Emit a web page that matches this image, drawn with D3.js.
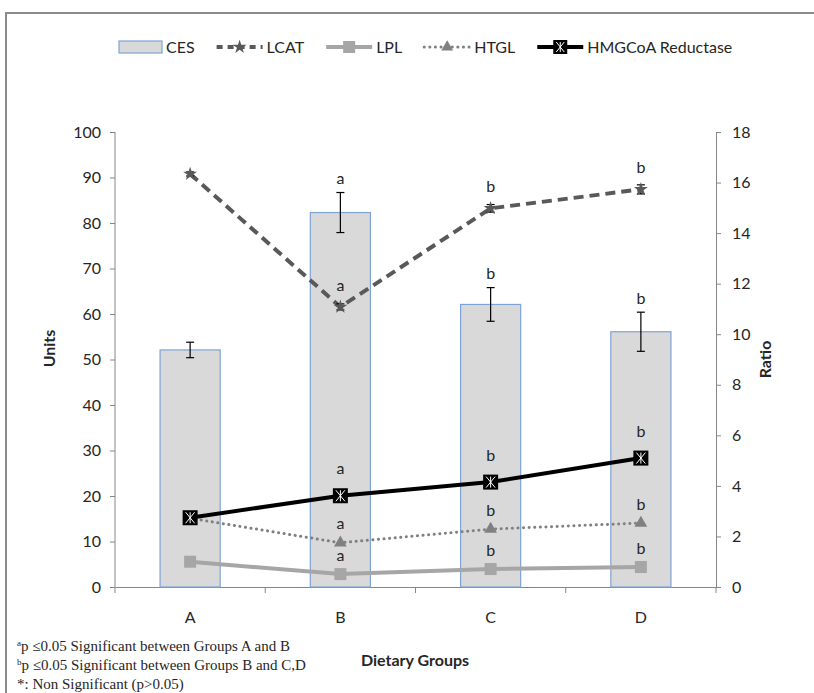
<!DOCTYPE html>
<html>
<head>
<meta charset="utf-8">
<script src="https://cdn.jsdelivr.net/npm/d3@7"></script>
<style>
  body { margin: 0; background: #fff; }
  svg { display: block; }
  text { font-family: Lato, "Open Sans", sans-serif; fill: #262626; }
  .note { font-family: "Liberation Serif", "Times New Roman", serif; }
</style>
</head>
<body>
<div id="viz"></div>
<script>
const width = 814;
const height = 693;
const marginLeft = 115;
const marginRight = 98;
const marginTop = 132;
const marginBottom = 106;

// data
const groups = ['A', 'B', 'C', 'D'];
const cesValues = [52.1, 82.3, 62.1, 56.1];
const cesErrors = [1.7, 4.4, 3.7, 4.3];
const cesLabels = ['', 'a', 'b', 'b'];
const lcatValues = [16.34, 11.08, 14.98, 15.73];
const lcatErrors = [0.08, 0.12, 0.15, 0.18];
const lcatLabels = ['', 'a', 'b', 'b'];
const lplValues = [1.0, 0.51, 0.71, 0.79];
const lplLabels = ['', 'a', 'b', 'b'];
const htglValues = [2.72, 1.75, 2.29, 2.53];
const htglLabels = ['', 'a', 'b', 'b'];
const hmgValues = [2.74, 3.61, 4.15, 5.1];
const hmgLabels = ['', 'a', 'b', 'b'];
const unitTicks = [0, 10, 20, 30, 40, 50, 60, 70, 80, 90, 100];
const ratioTicks = [0, 2, 4, 6, 8, 10, 12, 14, 16, 18];
const legendNames = ['CES', 'LCAT', 'LPL', 'HTGL', 'HMGCoA Reductase'];

const svg = d3
  .select('#viz')
  .append('svg')
  .attr('width', width)
  .attr('height', height);

// outer chart frame
svg
  .append('rect')
  .attr('x', 6)
  .attr('y', 13)
  .attr('width', 900)
  .attr('height', 800)
  .attr('fill', 'none')
  .attr('stroke', '#8c8c8c')
  .attr('stroke-width', 2);

const xScale = d3
  .scaleBand()
  .domain(groups)
  .range([marginLeft, width - marginRight]);

const yUnits = d3
  .scaleLinear()
  .domain([0, 100])
  .range([height - marginBottom, marginTop]);

const yRatio = d3
  .scaleLinear()
  .domain([0, 18])
  .range([height - marginBottom, marginTop]);

const axisColor = '#868686';
const cx = (i) => xScale(groups[i]) + xScale.bandwidth() / 2;

// axes
const leftAxis = svg
  .append('g')
  .attr('transform', `translate(${marginLeft},0)`)
  .call(d3.axisLeft(yUnits).tickValues(unitTicks).tickSize(5).tickPadding(9));
const rightAxis = svg
  .append('g')
  .attr('transform', `translate(${width - marginRight},0)`)
  .call(d3.axisRight(yRatio).tickValues(ratioTicks).tickSize(5).tickPadding(11));
const bottomAxis = svg
  .append('g')
  .attr('transform', `translate(0,${height - marginBottom})`)
  .call(d3.axisBottom(xScale).tickSize(0).tickPadding(25));

[leftAxis, rightAxis, bottomAxis].forEach((g) => {
  g.selectAll('path, line').attr('stroke', axisColor);
  g.selectAll('text')
    .attr('font-size', 16)
    .attr('fill', '#404040')
    .style('font-family', 'Lato, sans-serif');
});
leftAxis.select('.domain').attr('d', `M0,${height - marginBottom + 6}V${marginTop}`);

// category boundary ticks below the x axis
svg
  .append('g')
  .selectAll('line')
  .data(groups)
  .join('line')
  .attr('x1', (d) => xScale(d) + xScale.bandwidth())
  .attr('x2', (d) => xScale(d) + xScale.bandwidth())
  .attr('y1', height - marginBottom)
  .attr('y2', height - marginBottom + 6)
  .attr('stroke', axisColor);

// axis titles
svg
  .append('text')
  .attr('transform', `translate(49,${(yUnits(0) + yUnits(100)) / 2 - 11}) rotate(-90)`)
  .attr('text-anchor', 'middle')
  .attr('dy', '0.35em')
  .attr('font-size', 16)
  .attr('font-weight', 'bold')
  .attr('fill', '#000')
  .text('Units');
svg
  .append('text')
  .attr('transform', `translate(765,${(yRatio(0) + yRatio(18)) / 2}) rotate(-90)`)
  .attr('text-anchor', 'middle')
  .attr('dy', '0.35em')
  .attr('font-size', 16)
  .attr('font-weight', 'bold')
  .attr('fill', '#000')
  .text('Ratio');
svg
  .append('text')
  .attr('x', 415)
  .attr('y', 666)
  .attr('text-anchor', 'middle')
  .attr('font-size', 16)
  .attr('font-weight', 'bold')
  .attr('fill', '#000')
  .text('Dietary Groups');

// CES bars
const barWidth = xScale.bandwidth() * 0.4;
svg
  .append('g')
  .selectAll('rect')
  .data(cesValues)
  .join('rect')
  .attr('x', (d, i) => cx(i) - barWidth / 2)
  .attr('y', (d) => yUnits(d))
  .attr('width', barWidth)
  .attr('height', (d) => yUnits(0) - yUnits(d))
  .attr('fill', '#d9d9d9')
  .attr('stroke', '#7ea3d6')
  .attr('stroke-width', 1.2);

function errorBars(values, errors, scale, color) {
  const g = svg.append('g').attr('stroke', color).attr('stroke-width', 1.2);
  values.forEach((v, i) => {
    const x = cx(i);
    const y0 = scale(v - errors[i]);
    const y1 = scale(v + errors[i]);
    g.append('line').attr('x1', x).attr('x2', x).attr('y1', y0).attr('y2', y1);
    g.append('line').attr('x1', x - 4).attr('x2', x + 4).attr('y1', y0).attr('y2', y0);
    g.append('line').attr('x1', x - 4).attr('x2', x + 4).attr('y1', y1).attr('y2', y1);
  });
}
errorBars(cesValues, cesErrors, yUnits, '#000');

function letterLabels(values, labels, scale, offset) {
  svg
    .append('g')
    .selectAll('text')
    .data(labels)
    .join('text')
    .attr('x', (d, i) => cx(i))
    .attr('y', (d, i) => scale(values[i]) - offset)
    .attr('text-anchor', 'middle')
    .attr('dy', '0.35em')
    .attr('font-size', 16)
    .attr('fill', '#333')
    .text((d) => d);
}
letterLabels(cesValues.map((v, i) => v + cesErrors[i]), cesLabels, yUnits, 14);

const line = d3
  .line()
  .x((d, i) => cx(i))
  .y((d) => yRatio(d));

// LPL
svg
  .append('path')
  .datum(lplValues)
  .attr('d', line)
  .attr('fill', 'none')
  .attr('stroke', '#a6a6a6')
  .attr('stroke-width', 4);
svg
  .append('g')
  .selectAll('rect')
  .data(lplValues)
  .join('rect')
  .attr('x', (d, i) => cx(i) - 6)
  .attr('y', (d) => yRatio(d) - 6)
  .attr('width', 12)
  .attr('height', 12)
  .attr('fill', '#a6a6a6');
letterLabels(lplValues, lplLabels, yRatio, 19);

// HTGL
svg
  .append('path')
  .datum(htglValues)
  .attr('d', line)
  .attr('fill', 'none')
  .attr('stroke', '#808080')
  .attr('stroke-width', 3)
  .attr('stroke-dasharray', '0.1 5.5')
  .attr('stroke-linecap', 'round');
svg
  .append('g')
  .selectAll('path')
  .data(htglValues)
  .join('path')
  .attr('transform', (d, i) => `translate(${cx(i)},${yRatio(d)})`)
  .attr('d', d3.symbol(d3.symbolTriangle).size(70))
  .attr('fill', '#808080');
letterLabels(htglValues, htglLabels, yRatio, 19);

// LCAT
svg
  .append('path')
  .datum(lcatValues)
  .attr('d', line)
  .attr('fill', 'none')
  .attr('stroke', '#595959')
  .attr('stroke-width', 4)
  .attr('stroke-dasharray', '10 6');
errorBars(lcatValues, lcatErrors, yRatio, '#000');
svg
  .append('g')
  .selectAll('path')
  .data(lcatValues)
  .join('path')
  .attr('transform', (d, i) => `translate(${cx(i)},${yRatio(d)})`)
  .attr('d', d3.symbol(d3.symbolStar).size(60))
  .attr('fill', '#595959');
letterLabels(lcatValues, lcatLabels, yRatio, 22);

// HMGCoA Reductase
svg
  .append('path')
  .datum(hmgValues)
  .attr('d', line)
  .attr('fill', 'none')
  .attr('stroke', '#000')
  .attr('stroke-width', 4);
function hmgMarker(g, s) {
  g.append('rect').attr('x', -s).attr('y', -s).attr('width', 2 * s).attr('height', 2 * s).attr('fill', '#000');
  g.append('path')
    .attr('d', `M${-s + 3},${-s + 2}L${s - 3},${s - 2}M${s - 3},${-s + 2}L${-s + 3},${s - 2}M0,${-s + 2}V${s - 2}`)
    .attr('stroke', '#fff')
    .attr('stroke-width', 1);
}
hmgValues.forEach((v, i) => {
  hmgMarker(svg.append('g').attr('transform', `translate(${cx(i)},${yRatio(v)})`), 7.5);
});
letterLabels(hmgValues, hmgLabels, yRatio, 27);

// legend
const legend = svg.append('g').attr('transform', 'translate(119,47)');
let lx = 0;
legendNames.forEach((name, k) => {
  const item = legend.append('g').attr('transform', `translate(${lx},0)`);
  const w = k === 0 ? 43 : 46;
  if (k === 0) {
    item.append('rect').attr('x', 0).attr('y', -6).attr('width', w).attr('height', 12)
      .attr('fill', '#d9d9d9').attr('stroke', '#7ea3d6').attr('stroke-width', 1.2);
  } else if (k === 1) {
    item.append('line').attr('x1', 0).attr('x2', w).attr('stroke', '#595959')
      .attr('stroke-width', 4).attr('stroke-dasharray', '6 5');
    item.append('path').attr('transform', `translate(${w / 2},0)`)
      .attr('d', d3.symbol(d3.symbolStar).size(60)).attr('fill', '#595959');
  } else if (k === 2) {
    item.append('line').attr('x1', 0).attr('x2', w).attr('stroke', '#a6a6a6').attr('stroke-width', 4);
    item.append('rect').attr('x', w / 2 - 6).attr('y', -6).attr('width', 12).attr('height', 12).attr('fill', '#a6a6a6');
  } else if (k === 3) {
    item.append('line').attr('x1', 0).attr('x2', w).attr('stroke', '#808080').attr('stroke-width', 3)
      .attr('stroke-dasharray', '0.1 5.5').attr('stroke-linecap', 'round');
    item.append('path').attr('transform', `translate(${w / 2},0)`)
      .attr('d', d3.symbol(d3.symbolTriangle).size(60)).attr('fill', '#808080');
  } else {
    item.append('line').attr('x1', 0).attr('x2', w).attr('stroke', '#000').attr('stroke-width', 4);
    hmgMarker(item.append('g').attr('transform', `translate(${w / 2},0)`), 7);
  }
  const t = item.append('text')
    .attr('x', w + 4)
    .attr('dy', '0.35em')
    .attr('font-size', 16)
    .attr('fill', '#404040')
    .text(name);
  lx += w + 4 + t.node().getComputedTextLength() + 22;
});

// significance notes
const notes = [
  { sup: 'a', text: 'p \u22640.05 Significant between Groups A and B' },
  { sup: 'b', text: 'p \u22640.05 Significant between Groups B and C,D' },
  { sup: '', text: '*: Non Significant (p>0.05)' },
];
notes.forEach((n, i) => {
  const t = svg
    .append('text')
    .attr('class', 'note')
    .attr('x', 17)
    .attr('y', 651 + i * 19)
    .attr('font-size', 15)
    .attr('fill', '#000');
  if (n.sup) {
    t.append('tspan').attr('font-size', 9).attr('dy', -5).text(n.sup);
    t.append('tspan').attr('dy', 5).text(n.text);
  } else {
    t.text(n.text);
  }
});
</script>
</body>
</html>
